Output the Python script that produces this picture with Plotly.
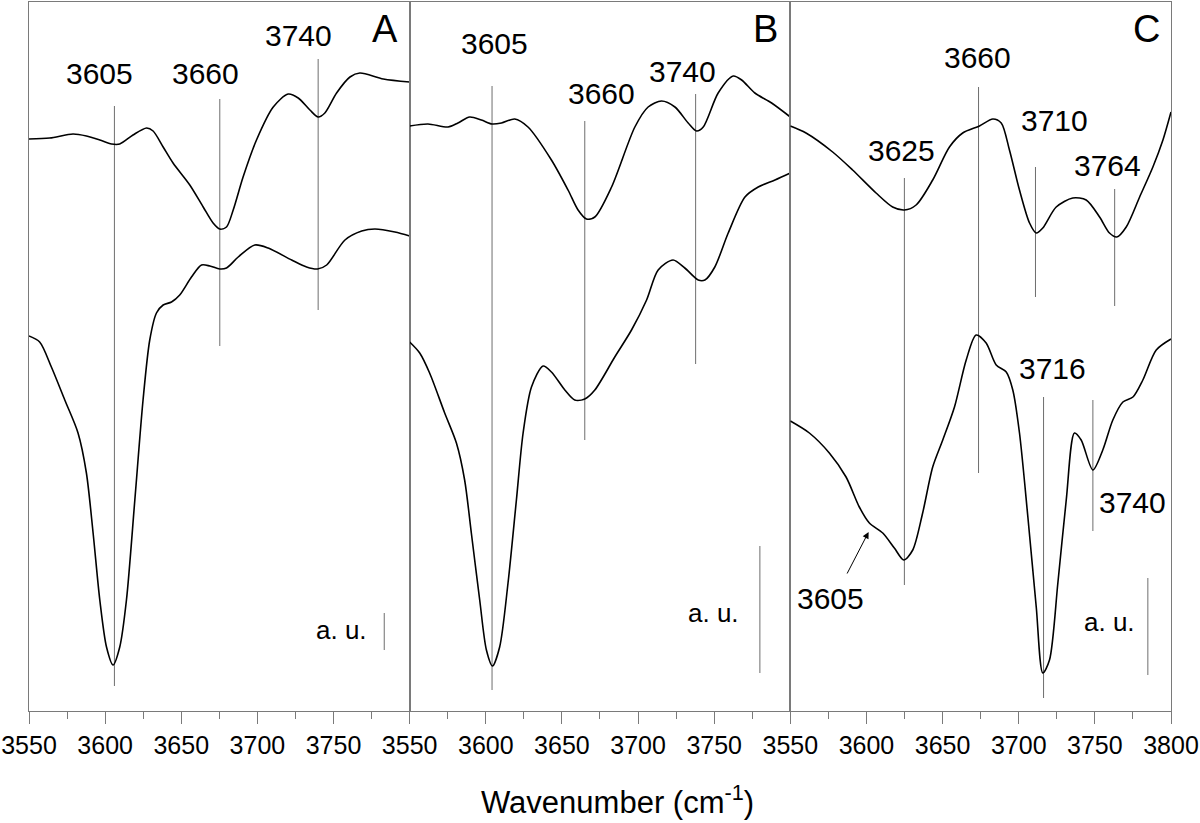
import plotly.graph_objects as go
from plotly.subplots import make_subplots

# ---------------- data (wavenumber cm-1, intensity a.u.) ----------------
# Panel A
A_top_wn = [3550.0, 3563.6, 3578.9, 3587.7, 3596.5, 3604.2, 3609.6, 3618.3, 3627.2, 3631.5,
            3638.1, 3644.6, 3655.6, 3664.4, 3670.9, 3675.3, 3679.7, 3684.1, 3690.6, 3699.4,
            3710.4, 3720.2, 3726.8, 3734.5, 3739.9, 3744.3, 3752.0, 3760.8, 3767.3, 3782.7, 3800.0]
A_top_int = [5.72, 5.73, 5.77, 5.75, 5.71, 5.67, 5.67, 5.76, 5.83, 5.80,
             5.64, 5.48, 5.26, 5.04, 4.88, 4.82, 4.84, 5.01, 5.34, 5.71,
             6.04, 6.17, 6.13, 6.01, 5.94, 5.98, 6.18, 6.34, 6.38, 6.32, 6.29]
A_bot_wn = [3550.0, 3557.0, 3564.7, 3573.5, 3582.2, 3587.7, 3592.1, 3596.5, 3600.9, 3605.2,
            3609.6, 3614.0, 3619.5, 3624.9, 3629.3, 3633.7, 3638.1, 3643.6, 3649.0, 3656.7,
            3663.3, 3668.8, 3675.3, 3679.7, 3687.4, 3698.3, 3707.1, 3722.5, 3732.3, 3739.5,
            3745.5, 3757.5, 3768.5, 3777.2, 3790.3, 3800.0]
A_bot_int = [3.75, 3.69, 3.44, 3.11, 2.78, 2.38, 1.78, 1.11, 0.64, 0.46,
             0.64, 1.11, 2.11, 3.11, 3.71, 3.98, 4.06, 4.09, 4.16, 4.34,
             4.46, 4.45, 4.42, 4.43, 4.54, 4.66, 4.63, 4.51, 4.44, 4.42,
             4.46, 4.71, 4.80, 4.82, 4.79, 4.75]

# Panel B
B_top_wn = [3550.0, 3562.0, 3575.2, 3581.7, 3589.4, 3597.1, 3604.1, 3610.3, 3619.0, 3627.7,
            3643.1, 3654.0, 3660.6, 3666.1, 3671.6, 3682.6, 3697.9, 3706.6, 3715.4, 3724.2,
            3732.9, 3738.4, 3742.8, 3752.6, 3762.5, 3768.0, 3776.7, 3787.7, 3800.0]
B_top_int = [5.85, 5.87, 5.84, 5.88, 5.94, 5.91, 5.87, 5.88, 5.92, 5.84,
             5.51, 5.21, 5.01, 4.92, 4.94, 5.24, 5.84, 6.04, 6.10, 6.04,
             5.88, 5.80, 5.84, 6.18, 6.35, 6.31, 6.18, 6.08, 5.94]
B_bot_wn = [3550.0, 3556.6, 3563.1, 3573.0, 3580.7, 3586.1, 3590.5, 3596.0, 3600.4, 3604.4,
            3609.1, 3614.6, 3620.1, 3624.5, 3630.0, 3637.6, 3643.1, 3651.9, 3658.4, 3665.0,
            3671.6, 3684.7, 3695.7, 3705.6, 3713.2, 3723.0, 3730.7, 3739.5, 3743.9, 3750.4,
            3759.2, 3770.2, 3778.9, 3789.9, 3800.0]
B_bot_int = [3.69, 3.58, 3.38, 2.98, 2.68, 2.31, 1.78, 1.11, 0.61, 0.45,
             0.64, 1.28, 2.11, 2.78, 3.24, 3.45, 3.39, 3.21, 3.11, 3.12,
             3.21, 3.54, 3.81, 4.11, 4.41, 4.51, 4.43, 4.31, 4.31, 4.44,
             4.78, 5.14, 5.24, 5.31, 5.38]

# Panel C
C_top_wn = [3550.0, 3560.3, 3577.8, 3590.9, 3606.3, 3617.2, 3624.9, 3632.6, 3643.5, 3654.5,
            3663.2, 3674.2, 3683.0, 3688.5, 3693.9, 3700.5, 3707.1, 3711.5, 3715.8, 3724.6,
            3735.5, 3744.3, 3753.1, 3759.6, 3764.4, 3770.6, 3779.4, 3788.1, 3794.7, 3800.0]
C_top_int = [5.85, 5.78, 5.59, 5.41, 5.18, 5.04, 5.01, 5.06, 5.31, 5.64,
             5.78, 5.85, 5.92, 5.88, 5.61, 5.21, 4.88, 4.78, 4.83, 5.04,
             5.13, 5.11, 4.94, 4.78, 4.74, 4.84, 5.14, 5.44, 5.71, 5.99]
C_bot_wn = [3550.0, 3562.5, 3575.6, 3586.6, 3595.3, 3601.9, 3610.7, 3618.3, 3624.5, 3630.4,
            3636.9, 3643.5, 3650.1, 3657.8, 3665.5, 3672.0, 3678.6, 3685.2, 3691.8, 3696.1,
            3700.5, 3706.0, 3711.5, 3715.8, 3720.2, 3725.7, 3731.2, 3736.6, 3741.0, 3748.7,
            3755.2, 3761.8, 3768.4, 3775.0, 3781.5, 3790.3, 3800.0]
C_bot_int = [2.90, 2.78, 2.58, 2.34, 2.04, 1.88, 1.78, 1.63, 1.51, 1.61,
             1.98, 2.44, 2.71, 3.04, 3.51, 3.76, 3.68, 3.46, 3.39, 3.21,
             2.78, 1.94, 1.04, 0.38, 0.51, 1.28, 2.11, 2.78, 2.71, 2.41,
             2.61, 2.91, 3.09, 3.14, 3.31, 3.61, 3.72]

# Peak marker lines: position, top, bottom
A_peak_wn = [3606.1, 3675.3, 3739.9]
A_peak_top = [6.05, 6.12, 6.52]
A_peak_bot = [0.25, 3.65, 4.01]
B_peak_wn = [3604.1, 3665.0, 3737.8]
B_peak_top = [6.25, 5.90, 6.17]
B_peak_bot = [0.21, 2.71, 3.47]
C_peak_wn = [3624.9, 3673.6, 3711.0, 3763.0, 3716.3, 3748.7]
C_peak_top = [5.33, 6.24, 5.44, 5.22, 3.14, 3.11]
C_peak_bot = [1.26, 2.38, 4.14, 4.05, 0.13, 1.80]

# Peak labels: text, x, y
A_lab_text = ["3605", "3660", "3740"]
A_lab_x = [3596.5, 3665.9, 3726.8]
A_lab_y = [6.38, 6.38, 6.76]
B_lab_text = ["3605", "3660", "3740"]
B_lab_x = [3605.9, 3676.0, 3729.2]
B_lab_y = [6.68, 6.18, 6.40]
C_lab_text = ["3625", "3660", "3710", "3764", "3716", "3740", "3605"]
C_lab_x = [3622.8, 3673.1, 3723.5, 3758.5, 3722.4, 3775.0, 3576.7]
C_lab_y = [5.61, 6.54, 5.91, 5.46, 3.43, 2.09, 1.13]

panel_letters = ["A", "B", "C"]

# a.u. scale bars: x, bottom, top, label x, label y
au_bar_x = [3783.3, 3780.0, 3784.8]
au_bar_bot = [0.61, 0.38, 0.36]
au_bar_top = [0.98, 1.65, 1.33]
au_text_x = [3755.3, 3749.8, 3759.6]
au_text_y = [0.81, 0.98, 0.89]

tick_vals_ab = [3550, 3600, 3650, 3700, 3750]
tick_vals_c = [3550, 3600, 3650, 3700, 3750, 3800]

# ---------------- figure ----------------
FONT = "Arial, Liberation Sans, sans-serif"
AXIS_GRAY = "#7a7a7a"
PEAK_GRAY = "#6e6e6e"

fig = make_subplots(rows=1, cols=3, shared_yaxes=True, horizontal_spacing=0)

panels = [
    (A_top_wn, A_top_int, A_bot_wn, A_bot_int, A_peak_wn, A_peak_top, A_peak_bot, A_lab_text, A_lab_x, A_lab_y),
    (B_top_wn, B_top_int, B_bot_wn, B_bot_int, B_peak_wn, B_peak_top, B_peak_bot, B_lab_text, B_lab_x, B_lab_y),
    (C_top_wn, C_top_int, C_bot_wn, C_bot_int, C_peak_wn, C_peak_top, C_peak_bot, C_lab_text, C_lab_x, C_lab_y),
]

for i, (tw, ti, bw, bi, pw, pt, pb, lt, lx, ly) in enumerate(panels):
    col = i + 1
    xs, ys = [], []
    for w, t, b in zip(pw, pt, pb):
        xs += [w, w, None]
        ys += [b, t, None]
    fig.add_trace(go.Scatter(x=xs, y=ys, mode="lines", line=dict(color=PEAK_GRAY, width=1),
                             hoverinfo="skip", showlegend=False), row=1, col=col)
    fig.add_trace(go.Scatter(x=[au_bar_x[i], au_bar_x[i]], y=[au_bar_bot[i], au_bar_top[i]], mode="lines",
                             line=dict(color=PEAK_GRAY, width=1), hoverinfo="skip", showlegend=False),
                  row=1, col=col)
    for xw, yi in ((tw, ti), (bw, bi)):
        fig.add_trace(go.Scatter(x=xw, y=yi, mode="lines",
                                 line=dict(color="black", width=1.6, shape="spline", smoothing=0.8),
                                 showlegend=False), row=1, col=col)
    xref = "x" if col == 1 else f"x{col}"
    for t, x, y in zip(lt, lx, ly):
        fig.add_annotation(x=x, y=y, xref=xref, yref="y", text=t, showarrow=False,
                           font=dict(family=FONT, size=30, color="black"),
                           xanchor="center", yanchor="middle")
    fig.add_annotation(x=au_text_x[i], y=au_text_y[i], xref=xref, yref="y", text="a. u.",
                       showarrow=False, font=dict(family=FONT, size=26, color="black"),
                       xanchor="center", yanchor="middle")
    fig.add_annotation(x=3783.8, y=6.82, xref=xref, yref="y", text=panel_letters[i], showarrow=False,
                       font=dict(family=FONT, size=38, color="black"),
                       xanchor="center", yanchor="middle")

# arrow pointing to 3605 shoulder in panel C
fig.add_annotation(x=3601.4, y=1.79, ax=3586.8, ay=1.36, xref="x3", yref="y", axref="x3", ayref="y",
                   text="", showarrow=True, arrowhead=2, arrowsize=1.3, arrowwidth=1,
                   arrowcolor="black")

for col in (1, 2, 3):
    fig.update_xaxes(
        range=[3550, 3800], row=1, col=col, automargin=False,
        tickvals=tick_vals_c if col == 3 else tick_vals_ab,
        ticks="outside", ticklen=12, tickwidth=1.2, tickcolor=AXIS_GRAY,
        minor=dict(ticks="outside", ticklen=7, dtick=25, tick0=3550, tickcolor=AXIS_GRAY, tickwidth=1.2),
        showline=True, linecolor=AXIS_GRAY, linewidth=1.3, mirror=True,
        showgrid=False, zeroline=False,
        tickfont=dict(family=FONT, size=25, color="black"),
    )
    fig.update_yaxes(
        range=[0, 7.09], row=1, col=col, automargin=False,
        showticklabels=False, ticks="", showgrid=False, zeroline=False,
        showline=True, linecolor=AXIS_GRAY, linewidth=1, mirror=True,
    )

fig.add_annotation(x=0.515, y=-0.1255, xref="paper", yref="paper",
                   text="Wavenumber (cm<sup>-1</sup>)", showarrow=False,
                   font=dict(family=FONT, size=31, color="black"),
                   xanchor="center", yanchor="middle")

fig.update_layout(
    width=1200, height=823,
    margin=dict(l=29, r=29, t=2, b=112, autoexpand=False),
    plot_bgcolor="white", paper_bgcolor="white",
    showlegend=False,
)

fig.write_html("out.html", config={"displayModeBar": False},
               post_script="document.body.style.margin='0';document.body.style.padding='0';document.body.style.overflow='hidden';")
